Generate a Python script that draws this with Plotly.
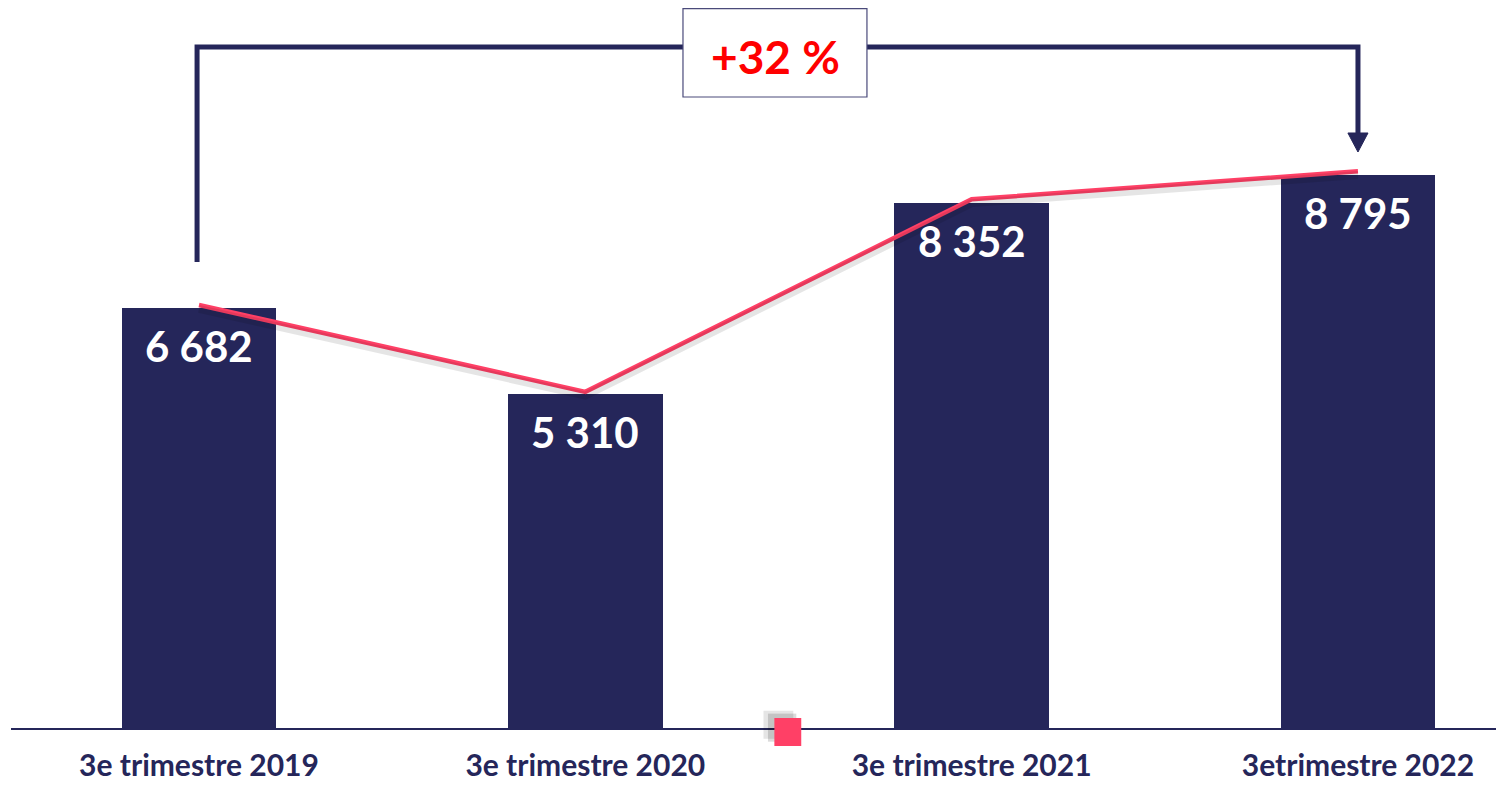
import plotly.graph_objects as go

categories = ["3e trimestre 2019", "3e trimestre 2020", "3e trimestre 2021", "3etrimestre 2022"]
values = [6682, 5310, 8352, 8795]
value_labels = ["6 682", "5 310", "8 352", "8 795"]
growth_label = "+32 %"

NAVY = "#25265A"
PINK = "#FF4066"
FONT = "Lato"

x = list(range(len(categories)))

fig = go.Figure()
fig.add_trace(go.Bar(x=x, y=values, width=0.4, marker=dict(color=NAVY, line=dict(width=0)),
                     showlegend=False, hoverinfo="skip"))
# soft shadow under the line
fig.add_trace(go.Scatter(x=x, y=values, mode="lines", yaxis="y3",
                         line=dict(color="rgba(0,0,0,0.10)", width=8),
                         showlegend=False, hoverinfo="skip"))
fig.add_trace(go.Scatter(x=x, y=values, mode="lines", yaxis="y2",
                         line=dict(color=PINK, width=4.5),
                         showlegend=False, hoverinfo="skip"))

annotations = []
for xi, v, lab in zip(x, values, value_labels):
    annotations.append(dict(x=xi, y=v, xref="x", yref="y", text=lab, showarrow=False,
                            xanchor="center", yanchor="top", yshift=-11,
                            font=dict(family=FONT, size=42, color="white", weight="bold")))

annotations.append(dict(x=1.491, y=0.932, xref="x", yref="paper", text=growth_label,
                        showarrow=False, xanchor="center", yanchor="middle",
                        font=dict(family=FONT, size=46, color="#FF0000", weight="bold")))

shapes = [
    # bracket
    dict(type="path", xref="x", yref="paper",
         path="M -0.005,0.6472 L -0.005,0.9458 L 3,0.9458 L 3,0.824",
         line=dict(color=NAVY, width=5)),
    # arrow head
    dict(type="path", xref="x", yref="paper",
         path="M 2.974,0.8264 L 3.026,0.8264 L 3,0.800 Z",
         fillcolor=NAVY, line=dict(color=NAVY, width=1)),
    # label box
    dict(type="rect", xref="x", yref="paper", x0=1.2528, x1=1.729, y0=0.8764, y1=0.999,
         fillcolor="white", line=dict(color="#4a4a7a", width=1.2)),
    # legend-like square shadow
    dict(type="rect", xref="paper", yref="paper", x0=0.504, x1=0.524, y0=-0.015, y1=0.024,
         fillcolor="rgba(0,0,0,0.10)", line=dict(width=0)),
    dict(type="rect", xref="paper", yref="paper", x0=0.507, x1=0.526, y0=-0.019, y1=0.020,
         fillcolor="rgba(0,0,0,0.14)", line=dict(width=0)),
    dict(type="rect", xref="paper", yref="paper", x0=0.5113, x1=0.5293, y0=-0.025, y1=0.0139,
         fillcolor=PINK, line=dict(width=0)),
]

fig.update_layout(
    width=1496, height=777,
    margin=dict(l=3, r=0, t=0, b=57),
    paper_bgcolor="white", plot_bgcolor="white",
    xaxis=dict(range=[-0.4866, 3.378], tickvals=x, ticktext=categories, automargin=False,
               showgrid=False, zeroline=False, showline=True, linecolor=NAVY, linewidth=1.5,
               ticks="outside", ticklen=10, tickcolor="rgba(0,0,0,0)",
               tickfont=dict(family=FONT, size=30, color=NAVY, weight="bold")),
    yaxis=dict(range=[0, 11447], visible=False, showgrid=False, automargin=False),
    yaxis2=dict(range=[0, 11374], overlaying="y", visible=False),
    yaxis3=dict(range=[60, 11434], overlaying="y", visible=False),
    shapes=shapes,
    annotations=annotations,
    bargap=0,
)

fig.write_html("out.html")
